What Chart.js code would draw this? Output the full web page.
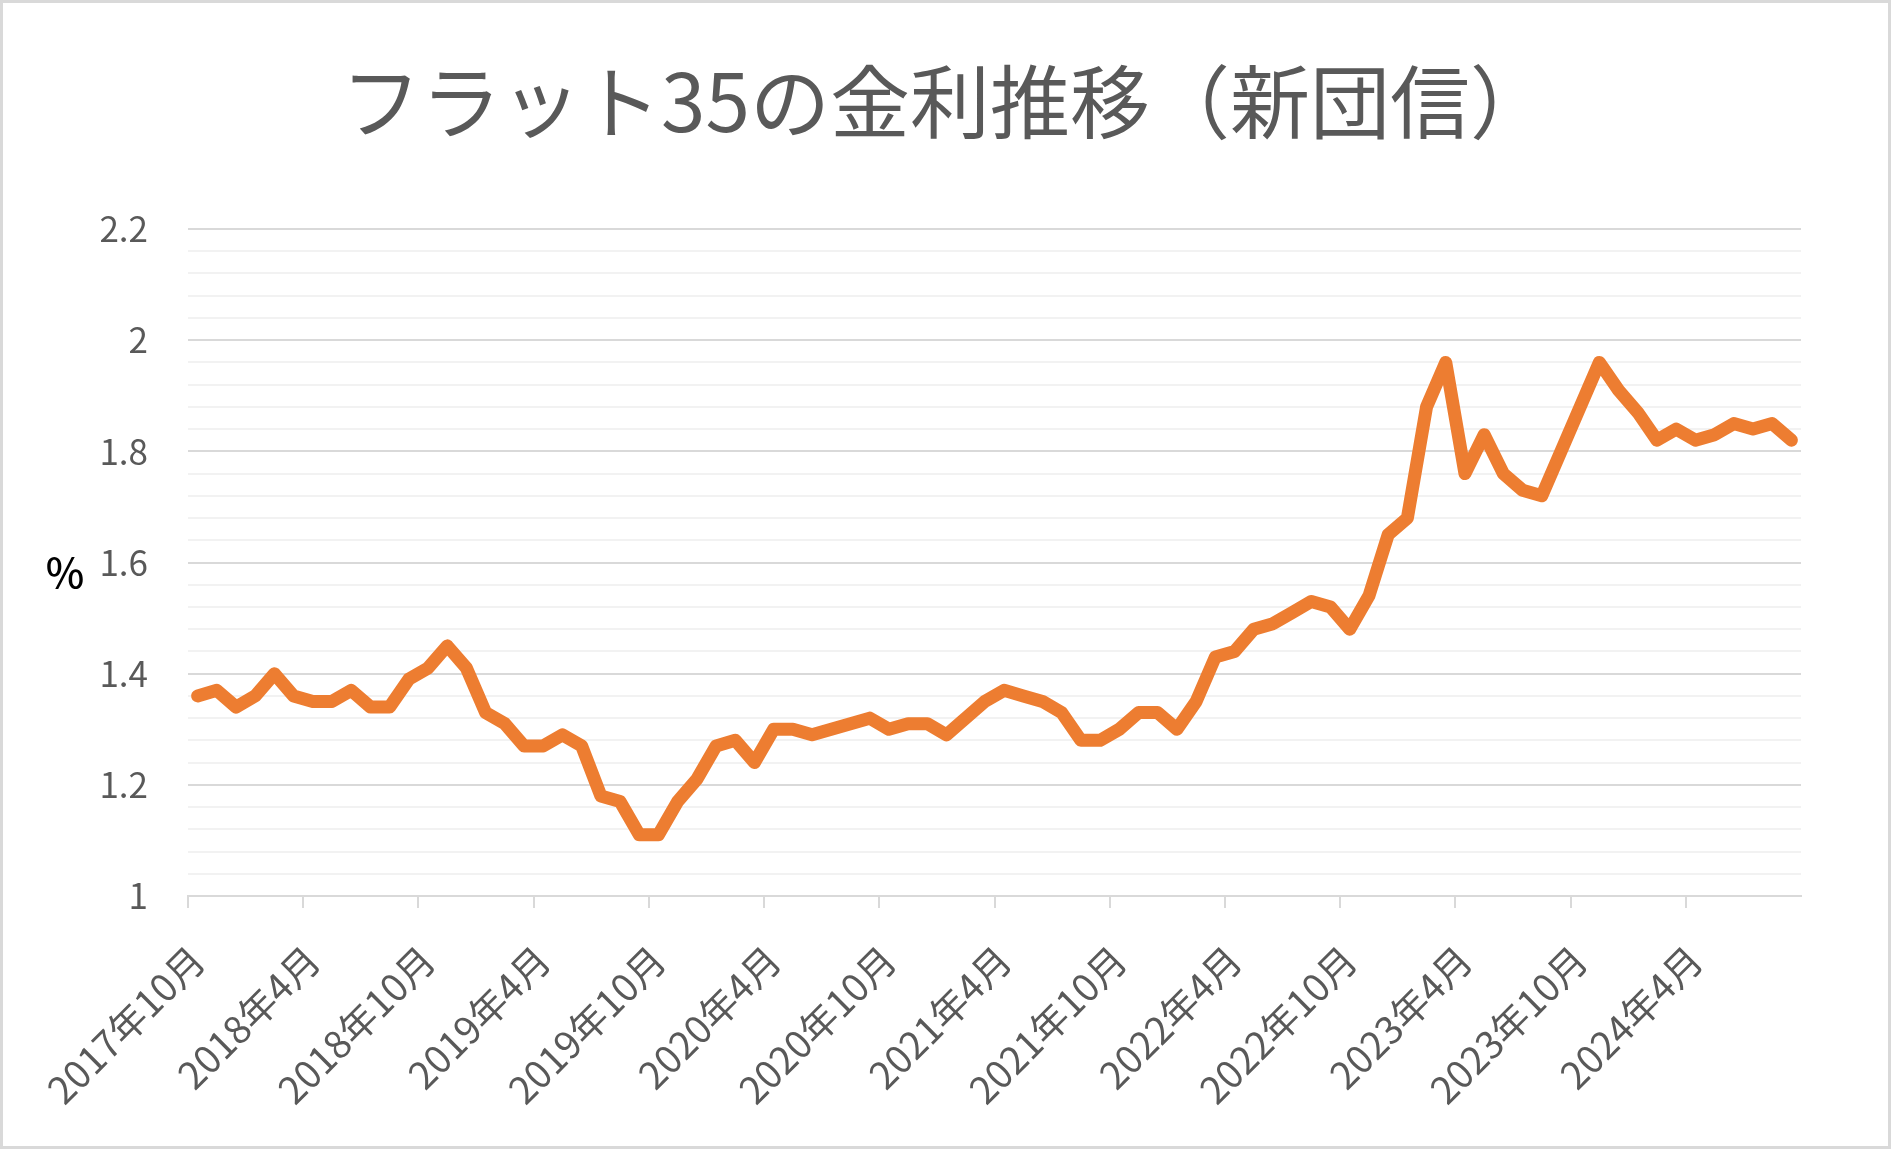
<!DOCTYPE html>
<html lang="ja">
<head>
<meta charset="utf-8">
<title>フラット35の金利推移（新団信）</title>
<script src="https://cdn.jsdelivr.net/npm/chart.js@4.4.1/dist/chart.umd.min.js"></script>
<style>
  html, body { margin: 0; padding: 0; background: #fff; }
  #wrap { width: 1891px; height: 1149px; }
</style>
</head>
<body>
<div id="wrap"><canvas id="rateChart"></canvas></div>
<script>
// months shown on the x axis: 2017年10月 .. 2024年9月
const startYear = 2017;
const startMonth = 10;
const monthCount = 84;

// flat35 rate (%), one value per month
const rates = [
  1.36, 1.37, 1.34, 1.36, 1.40, 1.36, 1.35, 1.35, 1.37, 1.34,
  1.34, 1.39, 1.41, 1.45, 1.41, 1.33, 1.31, 1.27, 1.27, 1.29,
  1.27, 1.18, 1.17, 1.11, 1.11, 1.17, 1.21, 1.27, 1.28, 1.24,
  1.30, 1.30, 1.29, 1.30, 1.31, 1.32, 1.30, 1.31, 1.31, 1.29,
  1.32, 1.35, 1.37, 1.36, 1.35, 1.33, 1.28, 1.28, 1.30, 1.33,
  1.33, 1.30, 1.35, 1.43, 1.44, 1.48, 1.49, 1.51, 1.53, 1.52,
  1.48, 1.54, 1.65, 1.68, 1.88, 1.96, 1.76, 1.83, 1.76, 1.73,
  1.72, 1.80, 1.88, 1.96, 1.91, 1.87, 1.82, 1.84, 1.82, 1.83,
  1.85, 1.84, 1.85, 1.82
];

const yMin = 1;
const yMax = 2.2;
const yStep = 0.04;   // minor gridlines
const yLabelStep = 0.2; // labelled gridlines
const labelEvery = 6;   // one x label every 6 months

function getMonthLabels() {
  const labels = [];
  for (let i = 0; i < monthCount; i++) {
    const m = startMonth - 1 + i;
    labels.push(`${startYear + Math.floor(m / 12)}年${(m % 12) + 1}月`);
  }
  return labels;
}

const months = getMonthLabels();

function isMajor(value) {
  const hundredths = Math.round(value * 100);
  return hundredths % Math.round(yLabelStep * 100) === 0;
}

const FONT = "'Noto Sans CJK JP', 'Noto Sans', sans-serif";
const GRAY_TEXT = "#595959";

// white background, outer border and the "%" label
const framePlugin = {
  id: "frame",
  beforeDraw(chart) {
    const ctx = chart.ctx;
    ctx.save();
    ctx.fillStyle = "#fff";
    ctx.fillRect(0, 0, chart.width, chart.height);
    ctx.restore();
  },
  afterDraw(chart) {
    const ctx = chart.ctx;
    const area = chart.chartArea;
    ctx.save();
    ctx.strokeStyle = "#d9d9d9";
    ctx.lineWidth = 3;
    ctx.strokeRect(1.5, 1.5, chart.width - 3, chart.height - 3);

    ctx.fillStyle = "#000";
    ctx.font = `500 41px ${FONT}`;
    ctx.textAlign = "center";
    ctx.textBaseline = "middle";
    ctx.fillText("%", 65, (area.top + area.bottom) / 2 + 10);
    ctx.restore();
  }
};

const rateCtx = document.getElementById("rateChart").getContext("2d");

new Chart(rateCtx, {
  type: "line",
  data: {
    labels: months,
    datasets: [{
      label: "フラット35",
      data: rates,
      borderColor: "#ed7d31",
      borderWidth: 13,
      borderJoinStyle: "round",
      borderCapStyle: "round",
      pointRadius: 0,
      tension: 0,
      fill: false
    }]
  },
  options: {
    responsive: true,
    maintainAspectRatio: false,
    animation: false,
    // symmetric side padding keeps the title centred on the canvas
    layout: { padding: { left: 90, right: 90, top: 0, bottom: 0 } },
    plugins: {
      legend: { display: false },
      tooltip: { enabled: false },
      title: {
        display: true,
        text: "フラット35の金利推移（新団信）",
        color: GRAY_TEXT,
        font: { family: FONT, size: 80, weight: "normal" },
        padding: { top: 54, bottom: 79 }
      }
    },
    scales: {
      x: {
        offset: true,
        grid: {
          display: true,
          offset: true,
          drawOnChartArea: false,
          drawTicks: true,
          tickLength: 12,
          lineWidth: 2,
          color: c => (c.index % labelEvery === 0 ? "#d9d9d9" : "rgba(0,0,0,0)")
        },
        border: { display: true, color: "#d9d9d9", width: 2 },
        ticks: {
          autoSkip: false,
          maxRotation: 45,
          minRotation: 45,
          padding: 29,
          color: GRAY_TEXT,
          font: { family: FONT, size: 38 },
          callback: (val, i) => (i % labelEvery === 0 ? months[i] : "")
        },
        afterFit(scale) {
          scale.height = 253;
        }
      },
      y: {
        min: yMin,
        max: yMax,
        grid: {
          drawTicks: false,
          lineWidth: 2,
          color: c => (isMajor(c.tick.value) ? "#d9d9d9" : "#f2f2f2")
        },
        border: { display: false },
        ticks: {
          stepSize: yStep,
          autoSkip: false,
          padding: 40,
          color: GRAY_TEXT,
          font: { family: FONT, size: 35 },
          callback: value => (isMajor(value) ? String(Math.round(value * 10) / 10) : "")
        },
        afterFit(scale) {
          scale.width = 98;
        }
      }
    }
  },
  plugins: [framePlugin]
});
</script>
</body>
</html>
